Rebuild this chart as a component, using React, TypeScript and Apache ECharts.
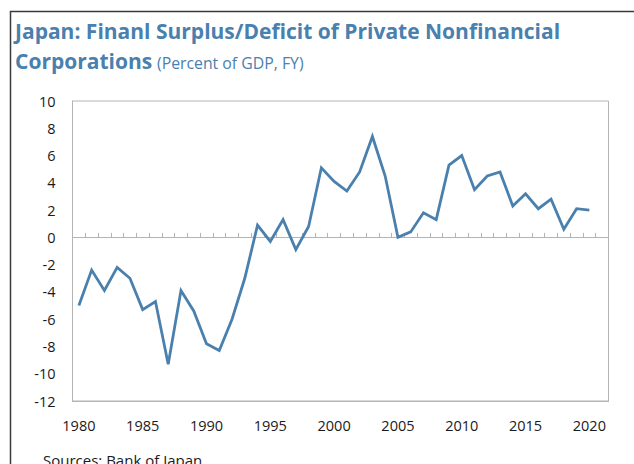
import React, { useEffect, useRef } from "react";
import * as echarts from "echarts";

const years: string[] = [];
for (let y = 1980; y <= 2021; y++) years.push(String(y));

const balance: (number | null)[] = [
  -5.0, -2.4, -3.9, -2.2, -3.0, -5.3, -4.7, -9.3, -3.9, -5.4,
  -7.8, -8.3, -6.0, -3.0, 0.9, -0.3, 1.3, -0.9, 0.8, 5.1,
  4.1, 3.4, 4.8, 7.4, 4.5, 0.0, 0.4, 1.8, 1.3, 5.3,
  6.0, 3.5, 4.5, 4.8, 2.3, 3.2, 2.1, 2.8, 0.6, 2.1,
  2.0, null,
];

const titleLine1 = "Japan: Finanl Surplus/Deficit of Private Nonfinancial";
const titleLine2 = "Corporations";
const subtitle = "(Percent of GDP, FY)";
const source = "Sources: Bank of Japan";

const FONT = "'Open Sans', 'Noto Sans', sans-serif";
const BLUE = "#4a80ae";
const GRAY = "#b4b4b4";

export default function App() {
  const ref = useRef<HTMLDivElement>(null);
  useEffect(() => {
    const chart = echarts.init(ref.current!, null, { renderer: "svg" });
    chart.setOption({
      animation: false,
      backgroundColor: "#ffffff",
      textStyle: { fontFamily: FONT },
      grid: {
        left: 72.5,
        right: 25.5,
        top: 101,
        bottom: 63,
        show: true,
        borderColor: GRAY,
        borderWidth: 1,
        containLabel: false,
      },
      xAxis: [
        {
          type: "category",
          data: years,
          position: "bottom",
          boundaryGap: true,
          axisLine: { show: true, onZero: false, lineStyle: { color: GRAY, width: 1 } },
          axisTick: { show: false },
          axisLabel: {
            interval: 4,
            margin: 17,
            fontSize: 14.5,
            color: "#1a1a1a",
            fontFamily: FONT,
          },
          splitLine: { show: false },
        },
        {
          type: "category",
          data: years,
          position: "top",
          boundaryGap: true,
          axisLine: { show: true, onZero: true, lineStyle: { color: GRAY, width: 1 } },
          axisTick: { show: true, inside: false, interval: 0, length: 4.5, lineStyle: { color: GRAY, width: 1 } },
          axisLabel: { show: false, interval: 0 },
          splitLine: { show: false },
        },
      ],
      yAxis: {
        type: "value",
        min: -12,
        max: 10,
        interval: 2,
        axisLine: { show: true, lineStyle: { color: GRAY, width: 1 } },
        axisTick: { show: false },
        splitLine: { show: false },
        axisLabel: {
          margin: 17,
          fontSize: 14.5,
          color: "#1a1a1a",
          fontFamily: FONT,
        },
      },
      series: [
        {
          type: "line",
          xAxisIndex: 0,
          data: balance,
          showSymbol: false,
          symbol: "none",
          lineStyle: { color: BLUE, width: 2.8, join: "miter" },
          connectNulls: false,
        },
      ],
      graphic: [
        {
          type: "rect",
          shape: { x: 10.5, y: 11.5, width: 800, height: 600 },
          style: { fill: "none", stroke: "#3a3a3a", lineWidth: 1.5 },
          silent: true,
        },
        {
          type: "text",
          x: 15,
          y: 31,
          style: {
            text: titleLine1,
            font: `bold 21px ${FONT}`,
            fill: BLUE,
            textVerticalAlign: "middle",
          },
        },
        {
          type: "text",
          x: 15,
          y: 61,
          style: {
            text: titleLine2,
            font: `bold 21px ${FONT}`,
            fill: BLUE,
            textVerticalAlign: "middle",
          },
        },
        {
          type: "text",
          x: 157,
          y: 63,
          style: {
            text: subtitle,
            font: `400 15.8px ${FONT}`,
            fill: BLUE,
            textVerticalAlign: "middle",
          },
        },
        {
          type: "text",
          x: 43,
          y: 460,
          style: {
            text: source,
            font: `400 15px ${FONT}`,
            fill: "#1a1a1a",
            textVerticalAlign: "middle",
          },
        },
      ],
    });
    return () => chart.dispose();
  }, []);
  return (
    <div
      ref={ref}
      style={{ position: "absolute", left: 0, top: 0, width: 634, height: 464 }}
    />
  );
}
